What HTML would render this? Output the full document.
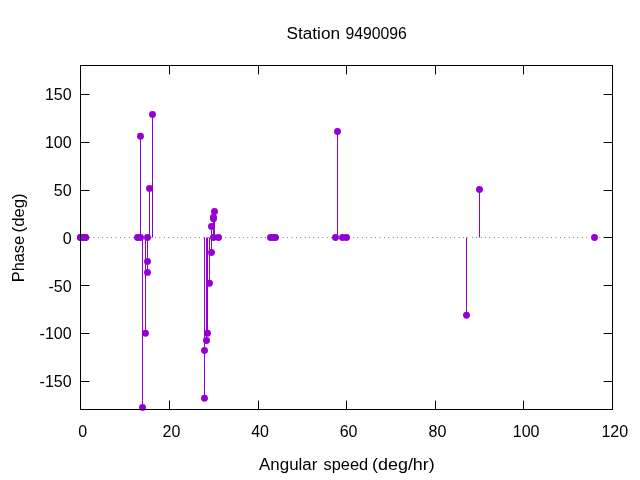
<!DOCTYPE html>
<html><head><meta charset="utf-8"><title>Station 9490096</title>
<style>html,body{margin:0;padding:0;background:#fff;}svg{display:block;will-change:transform}text{font-family:"Liberation Sans",sans-serif;font-size:16px;fill:#000}</style></head>
<body>
<svg width="640" height="480" viewBox="0 0 640 480">
<rect width="640" height="480" fill="#fff"/>
<g stroke="#000" stroke-width="1" fill="none">
<path d="M80.5 94.5H89.4M612.5 94.5H603.6"/>
<path d="M80.5 142.5H89.4M612.5 142.5H603.6"/>
<path d="M80.5 190.5H89.4M612.5 190.5H603.6"/>
<path d="M80.5 237.5H89.4M612.5 237.5H603.6"/>
<path d="M80.5 285.5H89.4M612.5 285.5H603.6"/>
<path d="M80.5 333.5H89.4M612.5 333.5H603.6"/>
<path d="M80.5 381.5H89.4M612.5 381.5H603.6"/>
<path d="M80.5 409.5V400.6M80.5 65.5V74.4"/>
<path d="M169.5 409.5V400.6M169.5 65.5V74.4"/>
<path d="M258.5 409.5V400.6M258.5 65.5V74.4"/>
<path d="M346.5 409.5V400.6M346.5 65.5V74.4"/>
<path d="M435.5 409.5V400.6M435.5 65.5V74.4"/>
<path d="M523.5 409.5V400.6M523.5 65.5V74.4"/>
<path d="M612.5 409.5V400.6M612.5 65.5V74.4"/>
</g>
<path d="M80.5 237.5H612.5" stroke="#000" stroke-width="1" stroke-dasharray="0.45 3.95" fill="none"/>
<g stroke="#9400d3" stroke-width="1" fill="none">
<path d="M140.5 237.5V136.2"/>
<path d="M142.5 237.5V407.4"/>
<path d="M145.5 237.5V333.2"/>
<path d="M147.5 237.5V261.4"/>
<path d="M147.5 237.5V272.4"/>
<path d="M149.5 237.5V188.4"/>
<path d="M152.5 237.5V114.4"/>
<path d="M204.5 237.5V398.2"/>
<path d="M204.5 237.5V350.5"/>
<path d="M206.5 237.5V340.5"/>
<path d="M207.5 237.5V333.2"/>
<path d="M209.5 237.5V283.3"/>
<path d="M211.5 237.5V226.4"/>
<path d="M211.5 237.5V252.5"/>
<path d="M213.5 237.5V217.1"/>
<path d="M213.5 237.5V218.7"/>
<path d="M214.5 237.5V211.5"/>
<path d="M337.5 237.5V131.5"/>
<path d="M466.5 237.5V315.3"/>
<path d="M479.5 237.5V189.4"/>
</g>
<g fill="#9400d3">
<circle cx="80.5" cy="237.5" r="3.45"/>
<circle cx="80.5" cy="237.5" r="3.45"/>
<circle cx="83.5" cy="237.5" r="3.45"/>
<circle cx="85.5" cy="237.5" r="3.45"/>
<circle cx="85.5" cy="237.5" r="3.45"/>
<circle cx="137.5" cy="237.5" r="3.45"/>
<circle cx="140.5" cy="136.2" r="3.45"/>
<circle cx="140.5" cy="237.5" r="3.45"/>
<circle cx="142.5" cy="407.4" r="3.45"/>
<circle cx="145.5" cy="333.2" r="3.45"/>
<circle cx="147.5" cy="261.4" r="3.45"/>
<circle cx="147.5" cy="237.5" r="3.45"/>
<circle cx="147.5" cy="272.4" r="3.45"/>
<circle cx="149.5" cy="188.4" r="3.45"/>
<circle cx="152.5" cy="114.4" r="3.45"/>
<circle cx="204.5" cy="398.2" r="3.45"/>
<circle cx="204.5" cy="350.5" r="3.45"/>
<circle cx="206.5" cy="340.5" r="3.45"/>
<circle cx="207.5" cy="333.2" r="3.45"/>
<circle cx="209.5" cy="283.3" r="3.45"/>
<circle cx="211.5" cy="226.4" r="3.45"/>
<circle cx="211.5" cy="252.5" r="3.45"/>
<circle cx="213.5" cy="217.1" r="3.45"/>
<circle cx="213.5" cy="218.7" r="3.45"/>
<circle cx="213.5" cy="237.5" r="3.45"/>
<circle cx="214.5" cy="211.5" r="3.45"/>
<circle cx="218.5" cy="237.5" r="3.45"/>
<circle cx="270.5" cy="237.5" r="3.45"/>
<circle cx="273.5" cy="237.5" r="3.45"/>
<circle cx="275.5" cy="237.5" r="3.45"/>
<circle cx="335.5" cy="237.5" r="3.45"/>
<circle cx="337.5" cy="131.5" r="3.45"/>
<circle cx="342.5" cy="237.5" r="3.45"/>
<circle cx="346.5" cy="237.5" r="3.45"/>
<circle cx="466.5" cy="315.3" r="3.45"/>
<circle cx="479.5" cy="189.4" r="3.45"/>
<circle cx="594.5" cy="237.5" r="3.45"/>
</g>
<rect x="80.5" y="65.5" width="532" height="344" fill="none" stroke="#000" stroke-width="1" shape-rendering="crispEdges"/>
<text x="71.6" y="387.0" text-anchor="end">-150</text>
<text x="71.6" y="339.0" text-anchor="end">-100</text>
<text x="71.6" y="292.0" text-anchor="end">-50</text>
<text x="71.6" y="244.0" text-anchor="end">0</text>
<text x="71.6" y="196.0" text-anchor="end">50</text>
<text x="71.6" y="148.0" text-anchor="end">100</text>
<text x="71.6" y="100.0" text-anchor="end">150</text>
<text x="82.8" y="437.3" text-anchor="middle">0</text>
<text x="171.5" y="437.3" text-anchor="middle">20</text>
<text x="260.1" y="437.3" text-anchor="middle">40</text>
<text x="348.6" y="437.3" text-anchor="middle">60</text>
<text x="437.5" y="437.3" text-anchor="middle">80</text>
<text x="526.1" y="437.3" text-anchor="middle">100</text>
<text x="614.8" y="437.3" text-anchor="middle">120</text>
<text x="286.5" y="38.9" textLength="53.57" lengthAdjust="spacingAndGlyphs">Station</text>
<text x="345.5" y="38.9" textLength="61.3" lengthAdjust="spacingAndGlyphs">9490096</text>
<text x="259.0" y="470" textLength="58.39" lengthAdjust="spacingAndGlyphs">Angular</text>
<text x="323.5" y="470" textLength="44.67" lengthAdjust="spacingAndGlyphs">speed</text>
<text x="372.0" y="470" textLength="62.79" lengthAdjust="spacingAndGlyphs">(deg/hr)</text>
<text transform="translate(23.7 282.3) rotate(-90)" textLength="46.5" lengthAdjust="spacingAndGlyphs">Phase</text>
<text transform="translate(23.7 232.4) rotate(-90)" textLength="39.0" lengthAdjust="spacingAndGlyphs">(deg)</text>
</svg>
</body></html>
